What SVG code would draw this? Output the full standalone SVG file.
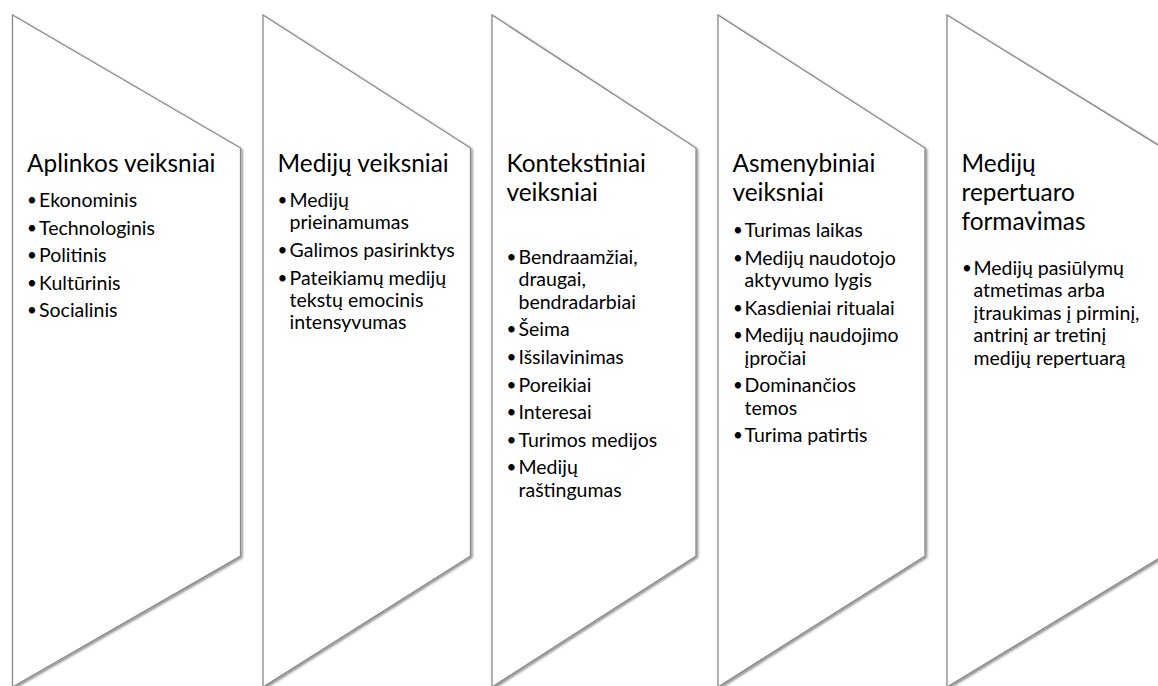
<svg xmlns="http://www.w3.org/2000/svg" width="1158" height="686" viewBox="0 0 1158 686">
<defs>
<filter id="sh" x="-5%" y="-5%" width="115%" height="115%">
<feDropShadow dx="1.5" dy="1.5" stdDeviation="1.2" flood-color="#000" flood-opacity="0.45"/>
</filter>
<style>
.shape{fill:#fff;stroke:#8a8a8a;stroke-width:1.3;filter:url(#sh)}
.t{font-family:Lato,"Liberation Sans",sans-serif;font-size:24.4px;fill:#000}
.b{font-family:Lato,"Liberation Sans",sans-serif;font-size:19.5px;fill:#000}
.d{font-family:Lato,"Liberation Sans",sans-serif;font-size:17px;fill:#000}
</style>
</defs>
<rect width="1158" height="686" fill="#fff"/>
<g id="connectors"></g>
<g id="node1">
<polygon class="shape" points="12.5,15 240.5,148 240.5,556 12.5,687"/>
<text class="t" x="27" y="172">Aplinkos veiksniai</text>
<g class="b">
<text class="d" x="27" y="206">•</text><text x="39" y="207">Ekonominis</text>
<text class="d" x="27" y="233.6">•</text><text x="39" y="234.6">Technologinis</text>
<text class="d" x="27" y="261.2">•</text><text x="39" y="262.2">Politinis</text>
<text class="d" x="27" y="288.8">•</text><text x="39" y="289.8">Kultūrinis</text>
<text class="d" x="27" y="316.4">•</text><text x="39" y="317.4">Socialinis</text>
</g>
</g>
<g id="node2">
<polygon class="shape" points="263,15 470.5,148 470.5,556 263,687"/>
<text class="t" x="277.5" y="172">Medijų veiksniai</text>
<g class="b">
<text class="d" x="277.5" y="206">•</text><text x="289.5" y="207">Medijų</text>
<text x="289.5" y="229.4">prieinamumas</text>
<text class="d" x="277.5" y="256">•</text><text x="289.5" y="257">Galimos pasirinktys</text>
<text class="d" x="277.5" y="283.6">•</text><text x="289.5" y="284.6">Pateikiamų medijų</text>
<text x="289.5" y="307">tekstų emocinis</text>
<text x="289.5" y="329.4">intensyvumas</text>
</g>
</g>
<g id="node3">
<polygon class="shape" points="492,15 696,148 696,556 492,687"/>
<text class="t" x="506.5" y="172">Kontekstiniai</text>
<text class="t" x="506.5" y="201">veiksniai</text>
<g class="b">
<text class="d" x="506.5" y="263">•</text><text x="518.5" y="264">Bendraamžiai,</text>
<text x="518.5" y="286.4">draugai,</text>
<text x="518.5" y="308.8">bendradarbiai</text>
<text class="d" x="506.5" y="335.4">•</text><text x="518.5" y="336.4">Šeima</text>
<text class="d" x="506.5" y="363">•</text><text x="518.5" y="364">Išsilavinimas</text>
<text class="d" x="506.5" y="390.6">•</text><text x="518.5" y="391.6">Poreikiai</text>
<text class="d" x="506.5" y="418.2">•</text><text x="518.5" y="419.2">Interesai</text>
<text class="d" x="506.5" y="445.8">•</text><text x="518.5" y="446.8">Turimos medijos</text>
<text class="d" x="506.5" y="473.4">•</text><text x="518.5" y="474.4">Medijų</text>
<text x="518.5" y="496.8">raštingumas</text>
</g>
</g>
<g id="node4">
<polygon class="shape" points="718,15 925,148 925,556 718,687"/>
<text class="t" x="732.5" y="172">Asmenybiniai</text>
<text class="t" x="732.5" y="201">veiksniai</text>
<g class="b">
<text class="d" x="733" y="236">•</text><text x="744.5" y="237">Turimas laikas</text>
<text class="d" x="733" y="263.6">•</text><text x="744.5" y="264.6">Medijų naudotojo</text>
<text x="744.5" y="287">aktyvumo lygis</text>
<text class="d" x="733" y="313.6">•</text><text x="744.5" y="314.6">Kasdieniai ritualai</text>
<text class="d" x="733" y="341.2">•</text><text x="744.5" y="342.2">Medijų naudojimo</text>
<text x="744.5" y="364.6">įpročiai</text>
<text class="d" x="733" y="391.2">•</text><text x="744.5" y="392.2">Dominančios</text>
<text x="744.5" y="414.6">temos</text>
<text class="d" x="733" y="441.2">•</text><text x="744.5" y="442.2">Turima patirtis</text>
</g>
</g>
<g id="node5">
<polygon class="shape" points="947,15 1163,148 1163,556 947,687"/>
<text class="t" x="961.5" y="172">Medijų</text>
<text class="t" x="961.5" y="201">repertuaro</text>
<text class="t" x="961.5" y="230">formavimas</text>
<g class="b">
<text class="d" x="962" y="274">•</text><text x="973.5" y="275">Medijų pasiūlymų</text>
<text x="973.5" y="297.4">atmetimas arba</text>
<text x="973.5" y="319.8">įtraukimas į pirminį,</text>
<text x="973.5" y="342.2">antrinį ar tretinį</text>
<text x="973.5" y="364.6">medijų repertuarą</text>
</g>
</g>
</svg>
